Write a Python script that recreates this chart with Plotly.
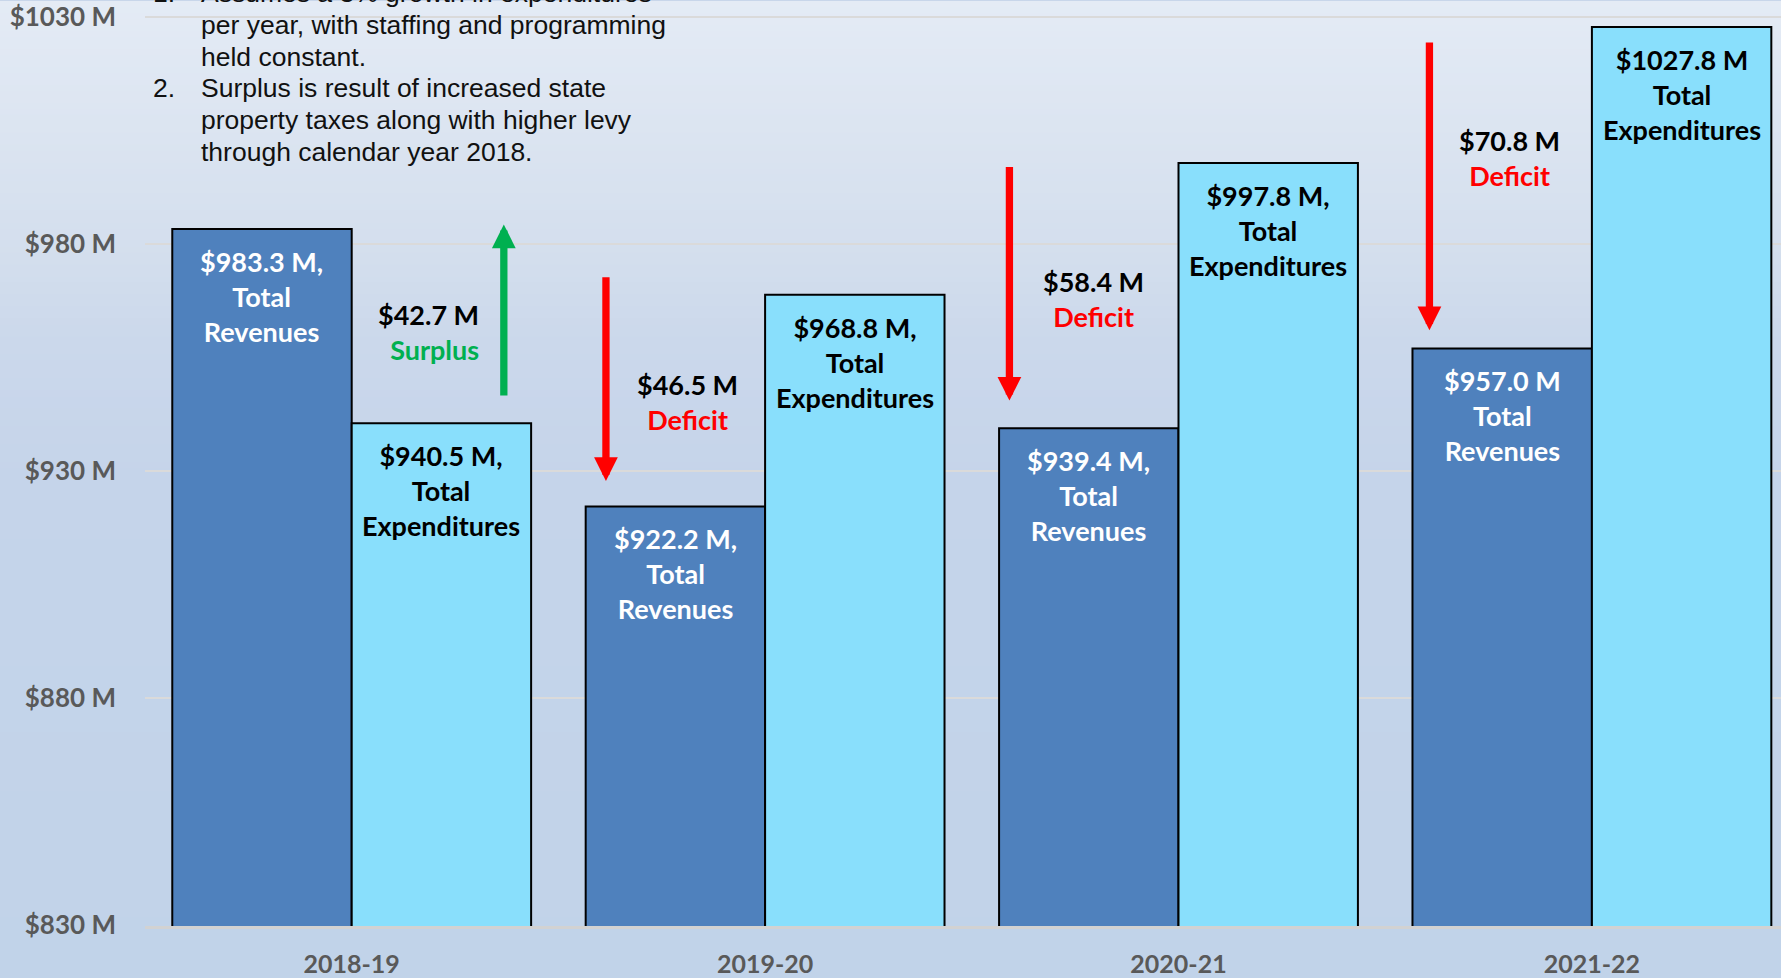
import plotly.graph_objects as go

# ---------------- data ----------------
years = ["2018-19", "2019-20", "2020-21", "2021-22"]
revenues = [983.3, 922.2, 939.4, 957.0]
expenditures = [940.5, 968.8, 997.8, 1027.8]
gap_values = [42.7, -46.5, -58.4, -70.8]
label_sep = [",", ",", ",", ""]
y_ticks = [830, 880, 930, 980, 1030]
y_tick_labels = ["$830 M", "$880 M", "$930 M", "$980 M", "$1030 M"]
note_lines = [
    "Assumes a 3% growth in expenditures",
    "per year, with staffing and programming",
    "held constant.",
    "Surplus is result of increased state",
    "property taxes along with higher levy",
    "through calendar year 2018.",
]
note_numbers = ["1.", "", "", "2.", "", ""]

# ---------------- style ----------------
W, H = 1781, 978
M_L, M_R, M_T, M_B = 145, 0, 0, 51
Y_RANGE = [829.8, 1033.5]
REV_COLOR = "#4f81bd"
EXP_COLOR = "#89dffc"
GREEN = "#00b050"
RED = "#ff0000"
AXIS_GRAY = "#595959"
BARGAP = 0.132
FONT = "Lato"
half = (1 - BARGAP) / 4  # offset of each bar centre from category centre

# arrow geometry (x offset from category centre, data offsets from bar tops)
arrow_dx = [0.368, -0.385, -0.409, -0.393]
arrow_tail_off = [5.8, 4.2, -0.5, -3.1]
arrow_head_off = [1.0, 5.6, 6.1, 4.0]
# gap label placement
gap_dx = [0.313, -0.187, -0.206, -0.200]
gap_anchor = ["right", "center", "center", "center"]
gap_y = [960.5, 945.1, 967.8, 998.9]
# note placement (page pixels)
NOTE_X, NUM_X, NOTE_Y0, NOTE_DY = 199, 151, -7.8, 31.8

x = list(range(len(years)))

fig = go.Figure()
fig.add_trace(go.Bar(x=x, y=revenues, name="Total Revenues", base=0,
                     marker=dict(color=REV_COLOR, line=dict(color="black", width=2)),
                     hoverinfo="skip"))
fig.add_trace(go.Bar(x=x, y=expenditures, name="Total Expenditures", base=0,
                     marker=dict(color=EXP_COLOR, line=dict(color="black", width=2)),
                     hoverinfo="skip"))

annotations = []
for i in x:
    annotations.append(dict(
        x=i - half, y=revenues[i], xref="x", yref="y", yanchor="top", xanchor="center",
        yshift=-14, showarrow=False,
        text=f"<b>${revenues[i]:.1f} M{label_sep[i]}<br>Total<br>Revenues</b>",
        font=dict(family=FONT, size=27, color="white")))
    annotations.append(dict(
        x=i + half, y=expenditures[i], xref="x", yref="y", yanchor="top", xanchor="center",
        yshift=-14, showarrow=False,
        text=f"<b>${expenditures[i]:.1f} M{label_sep[i]}<br>Total<br>Expenditures</b>",
        font=dict(family=FONT, size=27, color="black")))
    g = gap_values[i]
    word = "Surplus" if g > 0 else "Deficit"
    col = GREEN if g > 0 else RED
    annotations.append(dict(
        x=i + gap_dx[i], y=gap_y[i], xref="x", yref="y", xanchor=gap_anchor[i], yanchor="middle",
        showarrow=False, align=gap_anchor[i],
        text=f"<b>${abs(g):.1f} M<br><span style='color:{col}'>{word}</span></b>",
        font=dict(family=FONT, size=27, color="black")))
    tail = expenditures[i] + arrow_tail_off[i]
    head = revenues[i] + arrow_head_off[i]
    annotations.append(dict(
        x=i + arrow_dx[i], y=head, ax=i + arrow_dx[i], ay=tail,
        xref="x", yref="y", axref="x", ayref="y", text="", showarrow=True,
        arrowhead=2, arrowsize=0.65, arrowwidth=7.3, arrowcolor=col))

plot_h = H - M_T - M_B
plot_w = W - M_L - M_R
def py(p):
    return (H - M_B - p) / plot_h
def px(p):
    return (p - M_L) / plot_w

# notes (top-left)
for k, line in enumerate(note_lines):
    yy = py(NOTE_Y0 + NOTE_DY * k)
    annotations.append(dict(
        x=px(NOTE_X), y=yy, xref="paper", yref="paper", xanchor="left", yanchor="middle",
        showarrow=False, align="left", text=line,
        font=dict(family="Liberation Sans", size=26.5, color="#111111")))
    if note_numbers[k]:
        annotations.append(dict(
            x=px(NUM_X), y=yy, xref="paper", yref="paper", xanchor="left", yanchor="middle",
            showarrow=False, text=note_numbers[k],
            font=dict(family="Liberation Sans", size=26.5, color="#111111")))

# background gradient bands
stops = [(0, (228, 235, 245)), (260, (211, 222, 237)), (340, (203, 216, 235)),
         (480, (197, 212, 234)), (978, (193, 211, 233))]
def col_at(p):
    for (p0, c0), (p1, c1) in zip(stops[:-1], stops[1:]):
        if p0 <= p <= p1:
            t = (p - p0) / (p1 - p0)
            return "rgb(%d,%d,%d)" % tuple(round(a + (b - a) * t) for a, b in zip(c0, c1))
    return "rgb(%d,%d,%d)" % stops[-1][1]

shapes = []
step = 6
for p in range(0, H, step):
    shapes.append(dict(type="rect", xref="paper", yref="paper", layer="below",
                       x0=px(-5), x1=px(W + 5), y0=py(p + step + 1), y1=py(p),
                       fillcolor=col_at(p + step / 2), line=dict(width=0)))

fig.update_layout(
    width=W, height=H, margin=dict(l=M_L, r=M_R, t=M_T, b=M_B, pad=0),
    barmode="group", bargap=BARGAP, bargroupgap=0,
    paper_bgcolor="rgb(200,214,234)", plot_bgcolor="rgba(0,0,0,0)",
    showlegend=False, annotations=annotations, shapes=shapes,
    xaxis=dict(range=[-0.5, -0.5 + plot_w / 413.4], tickmode="array", tickvals=x, ticktext=years,
               tickfont=dict(family=FONT, size=25, color=AXIS_GRAY, weight="bold"),
               showgrid=False, showline=True, linecolor="#d2d2d2", linewidth=3,
               ticks="", ticklabelstandoff=14, zeroline=False, ticklabeloverflow="allow"),
    yaxis=dict(range=Y_RANGE, tickmode="array", tickvals=y_ticks, ticktext=y_tick_labels,
               tickfont=dict(family=FONT, size=26, color=AXIS_GRAY, weight="bold"),
               showgrid=True, gridcolor="#dadada", gridwidth=2, zeroline=False,
               ticks="", ticklabelstandoff=28, showline=False, ticklabeloverflow="allow"),
)

fig.write_html("out.html", config={"displayModeBar": False},
               post_script="document.body.style.margin='0';document.body.style.overflow='hidden';")
